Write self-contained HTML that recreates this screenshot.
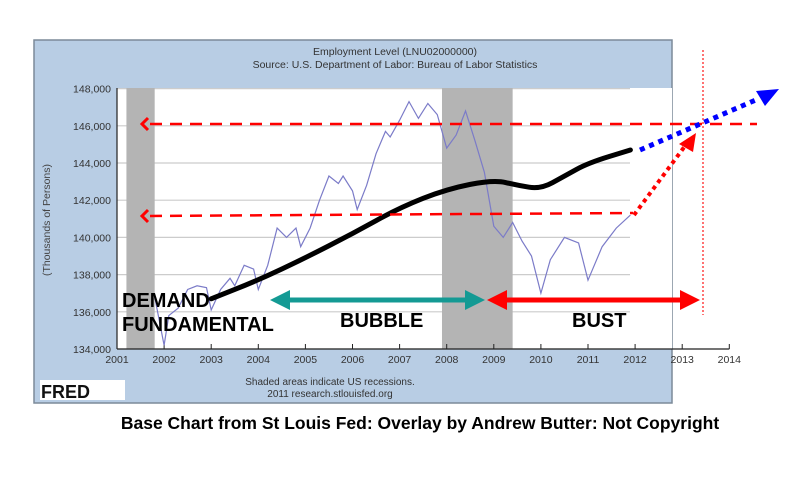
<!DOCTYPE html>
<html><head><meta charset="utf-8"><style>
body{margin:0;width:800px;height:472px;background:#fff;overflow:hidden;font-family:"Liberation Sans",sans-serif}
</style></head><body>
<svg width="800" height="472" viewBox="0 0 800 472" xmlns="http://www.w3.org/2000/svg">
<rect x="34" y="40" width="638" height="363" fill="#b8cde4" stroke="#7c8a99" stroke-width="1.5"/>
<rect x="117" y="88" width="555" height="261" fill="#fff"/>
<text x="395" y="55" font-size="10.5" text-anchor="middle" fill="#333">Employment Level (LNU02000000)</text>
<text x="395" y="68" font-size="10.5" text-anchor="middle" fill="#333">Source: U.S. Department of Labor: Bureau of Labor Statistics</text>
<text transform="translate(50,220) rotate(-90)" font-size="10.5" text-anchor="middle" fill="#444">(Thousands of Persons)</text>
<g id="grid"></g><g id="rec"></g><g id="axes"></g><g id="series"></g>
<g id="overlay">
<line x1="703" y1="50" x2="703" y2="315" stroke="#f44" stroke-width="1.5" stroke-dasharray="2,2"/>
<line x1="150" y1="124" x2="757" y2="124" stroke="#f00" stroke-width="2.5" stroke-dasharray="12,8"/>
<polyline points="148,118 142,124 148,130" fill="none" stroke="#f00" stroke-width="3"/>
<line x1="150" y1="216" x2="633" y2="213" stroke="#f00" stroke-width="2.5" stroke-dasharray="12,8"/>
<polyline points="148,210 142,216 148,222" fill="none" stroke="#f00" stroke-width="3"/>
<line x1="634" y1="215" x2="685" y2="146" stroke="#f00" stroke-width="4" stroke-dasharray="4,4"/>
<polygon points="696,133 679,144 693,152" fill="#f00"/>
<line x1="640" y1="150" x2="758" y2="99" stroke="#0000ff" stroke-width="5" stroke-dasharray="5,5"/>
<polygon points="779,89 756,91 765,106" fill="#0000ff"/>
<line x1="285" y1="300" x2="470" y2="300" stroke="#149a94" stroke-width="5"/>
<polygon points="270,300 290,290 290,310" fill="#149a94"/><polygon points="485,300 465,290 465,310" fill="#149a94"/>
<line x1="505" y1="300" x2="680" y2="300" stroke="#f00" stroke-width="5"/>
<polygon points="487,300 507,290 507,310" fill="#f00"/><polygon points="700,300 680,290 680,310" fill="#f00"/>
<text x="122" y="307" font-size="20" font-weight="bold" fill="#000">DEMAND</text>
<text x="122" y="331" font-size="20" font-weight="bold" fill="#000">FUNDAMENTAL</text>
<text x="340" y="327" font-size="20" font-weight="bold" fill="#000">BUBBLE</text>
<text x="572" y="327" font-size="20" font-weight="bold" fill="#000">BUST</text>
</g>
<rect x="40" y="380" width="85" height="20" fill="#fff"/>
<text x="41" y="398" font-size="18" font-weight="bold" fill="#111">FRED</text>
<text x="330" y="385" font-size="10" text-anchor="middle" fill="#333">Shaded areas indicate US recessions.</text>
<text x="330" y="397" font-size="10" text-anchor="middle" fill="#333">2011 research.stlouisfed.org</text>
<text x="420" y="429" font-size="17.5" font-weight="bold" text-anchor="middle" fill="#000">Base Chart from St Louis Fed: Overlay by Andrew Butter: Not Copyright</text>
</svg>
<script>
const yTicks=[134000,136000,138000,140000,142000,144000,146000,148000];
const xYears=[2001,2002,2003,2004,2005,2006,2007,2008,2009,2010,2011,2012,2013,2014];
const recessions=[[2001.2,2001.8],[2007.9,2009.4]];
const empYears=[2001.8,2002.0,2002.1,2002.3,2002.5,2002.7,2002.9,2003.0,2003.2,2003.4,2003.5,2003.7,2003.9,2004.0,2004.2,2004.4,2004.6,2004.8,2004.9,2005.1,2005.3,2005.5,2005.7,2005.8,2006.0,2006.1,2006.3,2006.5,2006.7,2006.8,2007.0,2007.2,2007.4,2007.6,2007.8,2008.0,2008.2,2008.4,2008.6,2008.8,2009.0,2009.2,2009.4,2009.6,2009.8,2010.0,2010.2,2010.5,2010.8,2011.0,2011.3,2011.6,2011.9];
const empValues=[136800,134200,135800,136200,137200,137400,137300,136100,137200,137800,137400,138500,138300,137200,138500,140500,140000,140500,139500,140500,142000,143300,142900,143300,142500,141500,142800,144500,145700,145400,146300,147300,146400,147200,146600,144800,145500,146800,145200,143500,140600,140000,140800,139800,139000,137000,138800,140000,139700,137700,139500,140500,141200];
const fundYears=[2003,2004,2005,2006,2007,2008,2009,2009.5,2010,2010.5,2011,2011.9];
const fundValues=[136700,137700,138900,140200,141600,142600,143100,142800,142600,143300,144000,144700];
const NS="http://www.w3.org/2000/svg";
const X=y=>117+(y-2001)*47.1, Y=v=>349-(v-134000)/1000*18.6;
function mk(t,a,p){const e=document.createElementNS(NS,t);for(const k in a)e.setAttribute(k,a[k]);document.getElementById(p).appendChild(e);return e;}
yTicks.forEach(v=>{
 const g=mk('line',{x1:117,x2:630,y1:Y(v),y2:Y(v),stroke:'#ccc','stroke-width':1.2},'grid');
 
 
 const t=mk('text',{x:111,y:Y(v)+4,'font-size':10.5,'text-anchor':'end',fill:'#333'},'axes');t.textContent=v.toLocaleString('en-US');
 
 
});
recessions.forEach(r=>{
 const e=mk('rect',{x:X(r[0]),y:88,width:X(r[1])-X(r[0]),height:261,fill:'#b4b4b4'},'rec');
 
 
});
mk('line',{x1:117,x2:117,y1:88,y2:349,stroke:'#222','stroke-width':1.2},'axes');
mk('line',{x1:117,x2:X(2014),y1:349,y2:349,stroke:'#222','stroke-width':1.2},'axes');
xYears.forEach(yr=>{
 mk('line',{x1:X(yr),x2:X(yr),y1:349,y2:344,stroke:'#222'},'axes');
 const t=mk('text',{x:X(yr),y:363,'font-size':10.5,'text-anchor':'middle',fill:'#333'},'axes');t.textContent=yr;
 
 
});
const ep=mk('polyline',{points:empYears.map((y,i)=>X(y)+','+Y(empValues[i])).join(' '),fill:'none',stroke:'#7b7bc8','stroke-width':1.2},'series');


let d='M'+X(fundYears[0])+','+Y(fundValues[0]);
for(let i=1;i<fundYears.length;i++){const px=X(fundYears[i-1]),py=Y(fundValues[i-1]),cx=X(fundYears[i]),cy=Y(fundValues[i]);d+=' Q'+px+','+py+' '+((px+cx)/2)+','+((py+cy)/2);}
d+=' L'+X(fundYears[fundYears.length-1])+','+Y(fundValues[fundValues.length-1]);
const fp=mk('path',{d:d,fill:'none',stroke:'#000','stroke-width':5,'stroke-linecap':'round'},'series');


</script>
</body></html>
